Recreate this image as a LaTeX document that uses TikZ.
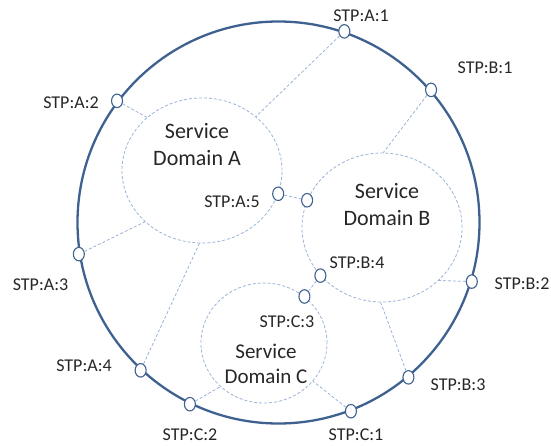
\documentclass[tikz,border=0pt]{standalone}
\usepackage{fontspec}
\setmainfont{Carlito}
\usepackage{xcolor}
\usepackage{tikz}
\usetikzlibrary{shapes.geometric}
\definecolor{ringblue}{HTML}{3F6190}
\definecolor{dashblue}{HTML}{9AB3D6}
\definecolor{txtgray}{HTML}{262626}

\begin{document}
\begin{tikzpicture}[x=1pt,y=1pt,
	port/.style={ellipse,draw=ringblue,fill=white,line width=1.1pt,minimum width=11pt,minimum height=13.5pt,inner sep=0pt},
	sdomain/.style={ellipse,draw=dashblue,dash pattern=on 3pt off 2pt,line width=0.8pt,inner sep=0pt},
	link/.style={draw=dashblue,dash pattern=on 3pt off 2pt,line width=0.8pt},
	stp/.style={text=txtgray,inner sep=0pt,font=\fontsize{18}{20}\selectfont},
	dname/.style={text=txtgray,align=center,inner sep=0pt}]
	\useasboundingbox (0,0) rectangle (551,445);
	% outer ring and the three domains
	\node[circle,draw=ringblue,line width=2.3pt,minimum size=402pt,inner sep=0pt] (ring) at (278.5,222.5) {};
	\node[sdomain,minimum width=160pt,minimum height=145pt] (domA) at (202,274.5) {};
	\node[sdomain,minimum width=160pt,minimum height=149pt] (domB) at (382,217.5) {};
	\node[sdomain,minimum width=126pt,minimum height=120pt] (domC) at (264,102) {};
	% ports on the ring
	\node[port] (a1) at (ring.71.3) {};
	\node[port] (a2) at (ring.143.3) {};
	\node[port] (a3) at (ring.189.5) {};
	\node[port] (a4) at (ring.227.6) {};
	\node[port] (b1) at (ring.41.6) {};
	\node[port] (b2) at (ring.343.9) {};
	\node[port] (b3) at (ring.310.9) {};
	\node[port] (c1) at (ring.291.7) {};
	\node[port] (c2) at (ring.244.6) {};
	% ports on the domains
	\node[port] (a5) at (domA.343) {};
	\node[port] (b5) at (domB.160) {};
	\node[port] (b4) at (domB.218) {};
	\node[port] (c3) at (domC.49) {};
	% links
	\draw[link] (a1) -- (domA.45);
	\draw[link] (a2) -- (domA.136);
	\draw[link] (a3) -- (domA.222);
	\draw[link] (a4) -- (domA.268);
	\draw[link] (b1) -- (domB.89);
	\draw[link] (b2) -- (domB.317);
	\draw[link] (b3) -- (domB.269);
	\draw[link] (c1) -- (domC.322);
	\draw[link] (c2) -- (domC.225);
	\draw[link] (a5) -- (b5);
	\draw[link] (b4) -- (c3);
	% labels
	\node[stp] (la1) at (361,429) {STP:A:1};
	\node[stp] (la2) at (71,342) {STP:A:2};
	\node[stp] (la3) at (40.5,160) {STP:A:3};
	\node[stp] (la4) at (84,79) {STP:A:4};
	\node[stp] (la5) at (232,243) {STP:A:5};
	\node[stp] (lb1) at (485,377) {STP:B:1};
	\node[stp] (lb2) at (522,161) {STP:B:2};
	\node[stp] (lb3) at (458,60) {STP:B:3};
	\node[stp] (lb4) at (357,182) {STP:B:4};
	\node[stp] (lc1) at (356,10) {STP:C:1};
	\node[stp] (lc2) at (190,10) {STP:C:2};
	\node[stp] (lc3) at (287,123) {STP:C:3};
	\node[dname,font=\fontsize{22}{27}\selectfont] (na) at (197,300) {Service\\Domain A};
	\node[dname,font=\fontsize{22}{27}\selectfont] (nb) at (387,240) {Service\\Domain B};
	\node[dname,font=\fontsize{21}{25}\selectfont] (nc) at (266,81.5) {Service\\Domain C};
\end{tikzpicture}
\end{document}
